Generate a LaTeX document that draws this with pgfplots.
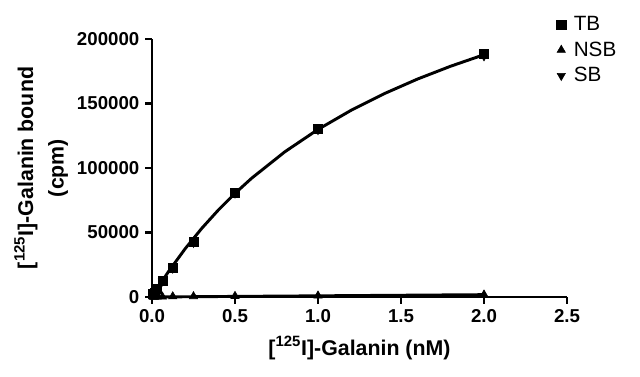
\documentclass[border=0pt]{standalone}
\usepackage{pgfplots}
\pgfplotsset{compat=1.18}
\usepackage{fontspec}
\setmainfont{Liberation Sans}
\newcommand\tf{\bfseries\fontsize{14}{16}\selectfont}
\newcommand\lf{\fontsize{15.5}{17}\selectfont}
\begin{document}
\begin{tikzpicture}[x=1pt,y=1pt]
\path[use as bounding box] (-114,-60) rectangle (366,222.75);
\begin{axis}[
  at={(0,0)}, anchor=origin,
  scale only axis, width=311.25pt, height=193.5pt,
  xmin=0, xmax=2.5, ymin=0, ymax=200000,
  axis x line*=bottom, axis y line*=left,
  scaled y ticks=false, scaled x ticks=false,
  xtick={0,0.5,1,1.5,2,2.5}, ytick={0,50000,100000,150000,200000},
  xticklabels={{\tf 0.0},{\tf 0.5},{\tf 1.0},{\tf 1.5},{\tf 2.0},{\tf 2.5}},
  yticklabels={{\tf 0},{\tf 50000},{\tf 100000},{\tf 150000},{\tf 200000}},
  tick align=outside, major tick length=5pt,
  every tick/.style={black, line width=2pt},
  axis line style={line width=2.2pt},
  yticklabel style={xshift=-1pt},
  xticklabel style={yshift=-1pt},
  xlabel={[\textsuperscript{125}I]-Galanin (nM)},
  ylabel={[\textsuperscript{125}I]-Galanin bound\\(cpm)},
  label style={font=\bfseries\fontsize{16}{23}\selectfont, align=center},
  xlabel style={at={(axis description cs:0.5,-0.198)}, anchor=center},
  ylabel style={at={(axis description cs:-0.267,0.5)}, anchor=center},
  clip=false,
  legend style={draw=none, fill=none, at={(axis description cs:0.965,1.11)}, anchor=north west,
    row sep=3pt, nodes={inner xsep=6pt}},
  legend cell align=left,
]
% fitted curves (no legend)
\addplot[black, line width=2.2pt, forget plot] coordinates {
 (0,0) (0.05,10211) (0.1,19825) (0.2,37459) (0.3,53246) (0.4,67463) (0.5,80332)
 (0.6,92036) (0.8,112531) (1.0,129885) (1.2,144769) (1.4,157674) (1.6,168972)
 (1.8,178944) (2.0,187812)};
\addplot[black, line width=2.2pt, forget plot] coordinates {(0,0) (2.0,1800)};
% data
\addplot[only marks, mark=square*, mark size=3.4pt, black] coordinates {
 (0.0078,2800) (0.0156,3200) (0.03125,6200) (0.0625,12400) (0.125,22500)
 (0.25,42600) (0.5,81000) (1.0,130500) (2.0,188500)};
\addlegendentry{\lf TB}
\addplot[only marks, mark=triangle*, mark size=3.6pt, black] coordinates {
 (0.0078,50) (0.0156,100) (0.03125,150) (0.0625,250) (0.125,400)
 (0.25,500) (0.5,700) (1.0,1000) (2.0,1800)};
\addlegendentry{\lf NSB}
\addplot[only marks, mark=triangle*, mark options={rotate=180}, mark size=3.6pt, black] coordinates {
 (0.0078,2750) (0.0156,3100) (0.03125,6050) (0.0625,12150) (0.125,22100)
 (0.25,42100) (0.5,80300) (1.0,129500) (2.0,186700)};
\addlegendentry{\lf SB}
\end{axis}
\end{tikzpicture}
\end{document}
